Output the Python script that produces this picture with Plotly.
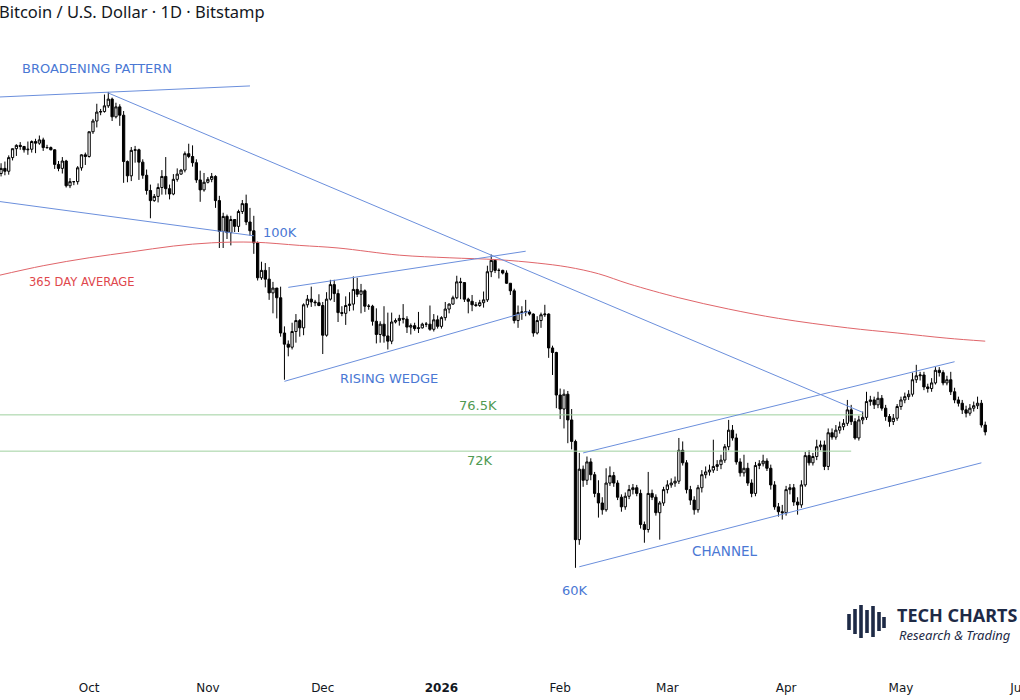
import math
import pandas as pd
import plotly.graph_objects as go

# ---------------- DATA (prices in thousands of USD) ----------------
START_DATE = "2025-09-07"

OPEN = [
    # Sep 7-30
    110.2,111.1,112.0,111.5,113.9,115.5,116.1,115.9,115.3,115.4,116.8,116.5,117.1,115.7,115.7,115.3,112.7,112.0,113.3,109.0,109.7,109.7,112.1,114.4,
    # Oct
    114.1,118.6,120.6,122.3,122.4,123.5,124.8,121.4,123.3,121.7,113.2,110.7,115.2,115.3,113.1,110.8,108.2,106.5,107.2,108.7,110.6,108.5,107.6,110.1,111.0,111.7,114.6,114.1,113.0,110.0,108.3,
    # Nov
    109.6,110.1,110.6,106.5,101.5,103.9,101.3,103.4,102.3,104.7,106.0,103.0,101.6,99.7,94.4,95.5,94.2,92.2,92.9,91.5,86.6,85.1,84.7,86.8,88.3,87.3,90.5,91.3,90.9,90.8,
    # Dec
    90.4,86.3,91.3,93.4,92.1,89.4,89.3,90.4,90.6,92.7,92.0,92.5,90.3,90.3,88.2,86.4,87.8,86.2,85.5,88.1,88.3,88.6,88.5,87.4,87.6,87.2,87.3,87.8,87.8,87.1,88.4,
    # Jan
    87.5,88.7,89.9,90.6,91.5,93.8,93.7,91.3,91.0,90.5,90.4,90.8,91.2,95.3,97.0,95.5,95.5,95.1,93.6,92.5,88.3,89.4,89.5,89.5,89.2,86.6,88.3,89.1,89.2,84.6,84.0,
    # Feb
    78.6,76.9,78.7,75.6,73.1,62.7,70.0,68.8,70.8,69.4,67.4,66.4,65.7,68.5,69.3,68.5,67.0,66.0,67.1,67.8,68.0,67.4,64.2,63.7,67.4,67.0,65.4,66.4,
    # Mar
    67.8,68.3,68.5,68.7,72.1,70.7,67.8,66.7,65.7,68.0,69.4,69.7,69.9,70.3,70.5,71.0,72.5,74.4,73.5,70.8,69.6,70.1,68.5,67.4,70.4,70.6,70.9,70.1,68.3,66.0,65.5,
    # Apr
    65.4,67.8,68.0,66.5,66.2,68.3,71.5,70.7,71.4,72.5,72.7,70.3,74.1,73.6,74.4,74.8,75.2,76.8,75.4,73.5,75.6,75.9,77.8,78.0,77.4,78.2,77.0,76.0,75.4,75.8,
    # May 1-23
    77.2,78.0,78.4,78.7,80.5,81.0,81.1,79.6,79.4,80.1,81.7,81.4,80.1,80.5,79.0,78.0,77.6,76.8,76.4,77.0,77.3,77.6,75.0,
]

HIGH = [
    111.6,112.9,113.2,114.3,115.5,116.3,116.7,116.0,116.8,117.0,117.3,117.9,117.5,116.2,115.9,115.4,113.3,114.0,113.5,110.3,109.8,112.4,114.5,114.8,
    118.6,121.0,123.9,122.9,125.7,126.2,125.1,124.1,123.8,122.5,113.4,115.8,116.0,115.5,113.6,111.8,109.2,107.6,109.4,111.7,114.0,109.2,111.0,112.0,111.9,115.0,116.4,116.1,113.6,111.6,111.2,
    110.5,111.2,110.8,107.3,104.5,104.2,104.0,103.4,105.0,106.6,107.5,105.3,104.0,99.9,96.8,96.6,96.0,93.8,92.9,93.1,87.5,85.6,88.0,89.2,88.5,90.7,91.9,93.1,91.2,92.0,
    90.9,92.3,94.1,94.1,92.7,90.3,91.7,92.3,94.6,94.4,93.5,92.7,90.6,90.5,90.0,88.2,90.3,89.4,89.4,88.6,89.1,90.6,88.9,87.9,88.0,89.5,88.0,88.1,90.4,89.2,89.0,
    88.9,90.9,90.7,91.8,94.7,94.4,93.7,91.5,91.9,90.9,91.2,92.4,96.2,97.9,97.2,95.8,95.6,95.5,93.6,92.8,90.4,90.3,91.2,89.8,89.3,88.9,89.4,90.5,89.3,84.9,84.1,
    79.4,79.3,79.1,76.9,73.3,71.8,70.4,71.4,71.2,69.7,68.8,67.0,70.1,70.3,69.7,68.8,67.3,67.5,68.3,68.4,68.3,67.8,64.5,69.7,67.8,67.3,66.6,68.1,
    68.8,69.0,69.2,73.5,73.1,71.0,68.2,67.1,68.3,69.9,70.3,70.5,73.3,71.0,71.6,72.8,75.6,75.0,74.0,71.2,71.6,70.7,68.9,70.8,71.0,71.6,71.2,70.5,68.7,66.4,66.2,
    68.2,68.4,68.4,67.0,68.8,71.9,72.1,71.8,73.3,73.2,73.2,74.6,74.6,75.0,75.4,75.7,78.0,77.4,75.8,76.1,76.6,79.0,78.5,78.4,79.0,78.6,77.4,76.3,76.3,77.5,
    78.4,78.9,79.2,81.4,82.4,81.5,81.5,80.0,80.7,82.1,82.1,81.7,81.0,81.5,79.5,78.4,78.0,77.3,77.5,77.8,78.4,78.0,75.4,
]

LOW = [
    110.0,110.6,110.8,110.9,113.4,114.2,115.3,114.8,114.4,114.8,114.7,116.2,115.1,115.5,115.2,111.9,111.5,111.1,108.7,108.6,109.1,109.2,111.6,112.6,
    113.9,118.2,119.4,121.7,122.2,123.1,120.6,121.1,119.7,109.5,109.6,109.8,113.0,110.0,110.2,107.5,103.6,106.3,106.2,107.5,107.5,106.7,107.4,109.7,110.9,111.3,113.8,112.3,109.5,106.3,108.0,
    109.4,109.6,105.3,98.9,98.9,100.3,99.3,101.4,101.4,104.3,102.5,100.8,98.0,94.0,94.1,93.0,91.2,89.3,88.6,86.1,80.5,83.5,84.4,85.3,86.1,86.3,90.1,90.2,90.3,90.3,
    83.8,86.1,91.1,90.9,88.1,88.9,87.7,89.6,89.7,91.6,89.3,89.5,89.8,87.6,85.2,85.3,85.3,84.4,85.1,87.9,87.6,87.9,86.6,86.4,86.9,86.6,87.2,87.4,86.9,86.8,87.2,
    87.2,88.3,89.3,90.5,91.3,91.3,90.9,89.3,89.6,90.2,90.2,90.1,90.9,94.5,95.1,94.3,94.9,93.5,91.9,87.9,87.3,88.4,88.9,89.0,86.1,86.4,87.3,88.8,83.3,81.1,77.0,
    75.7,74.6,72.9,72.2,60.0,62.2,68.1,68.3,68.8,67.0,64.9,65.2,65.5,68.2,68.1,66.7,65.5,65.7,66.8,67.3,67.1,63.8,62.4,63.4,66.7,65.1,62.7,66.1,
    67.4,68.0,68.1,68.4,70.4,67.4,66.2,65.2,65.4,67.5,69.0,69.3,69.6,69.8,70.0,70.7,72.1,73.2,70.5,69.2,69.2,68.2,67.0,67.1,70.0,70.3,69.8,67.8,65.7,65.0,64.7,
    65.1,67.3,66.1,65.2,65.9,68.1,70.4,70.4,71.0,72.1,69.9,69.9,73.3,73.3,74.0,74.4,74.9,75.0,73.3,73.2,75.1,75.6,77.3,76.9,77.0,76.7,75.5,74.8,75.0,75.5,
    76.8,77.6,78.0,78.4,80.1,80.4,79.2,78.9,79.0,79.9,80.9,79.8,79.8,78.6,77.6,77.2,76.3,75.9,76.1,76.6,76.9,74.7,73.8,
]

CLOSE = [
    111.1,112.0,111.5,113.9,115.5,116.1,115.9,115.3,115.4,116.8,116.5,117.1,115.7,115.7,115.3,112.7,112.0,113.3,109.0,109.7,109.7,112.1,114.4,114.1,
    118.6,120.6,122.3,122.4,123.5,124.8,121.4,123.3,121.7,113.2,110.7,115.2,115.3,113.1,110.8,108.2,106.5,107.2,108.7,110.6,108.5,107.6,110.1,111.0,111.7,114.6,114.1,113.0,110.0,108.3,109.6,
    110.1,110.6,106.5,101.5,103.9,101.3,103.4,102.3,104.7,106.0,103.0,101.6,99.7,94.4,95.5,94.2,92.2,92.9,91.5,86.6,85.1,84.7,86.8,88.3,87.3,90.5,91.3,90.9,90.8,90.4,
    86.3,91.3,93.4,92.1,89.4,89.3,90.4,90.6,92.7,92.0,92.5,90.3,90.3,88.2,86.4,87.8,86.2,85.5,88.1,88.3,88.6,88.5,87.4,87.6,87.2,87.3,87.8,87.8,87.1,88.4,87.5,
    88.7,89.9,90.6,91.5,93.8,93.7,91.3,91.0,90.5,90.4,90.8,91.2,95.3,97.0,95.5,95.5,95.1,93.6,92.5,88.3,89.4,89.5,89.5,89.2,86.6,88.3,89.1,89.2,84.6,84.0,78.6,
    76.9,78.7,75.6,73.1,62.7,70.0,68.8,70.8,69.4,67.4,66.4,65.7,68.5,69.3,68.5,67.0,66.0,67.1,67.8,68.0,67.4,64.2,63.7,67.4,67.0,65.4,66.4,67.8,
    68.3,68.5,68.7,72.1,70.7,67.8,66.7,65.7,68.0,69.4,69.7,69.9,70.3,70.5,71.0,72.5,74.4,73.5,70.8,69.6,70.1,68.5,67.4,70.4,70.6,70.9,70.1,68.3,66.0,65.5,65.4,
    67.8,68.0,66.5,66.2,68.3,71.5,70.7,71.4,72.5,72.7,70.3,74.1,73.6,74.4,74.8,75.2,76.8,75.4,73.5,75.6,75.9,77.8,78.0,77.4,78.2,77.0,76.0,75.4,75.8,77.2,
    78.0,78.4,78.7,80.5,81.0,81.1,79.6,79.4,80.1,81.7,81.4,80.1,80.5,79.0,78.0,77.6,76.8,76.4,77.0,77.3,77.6,75.0,74.2,
]

# 365-day average (red), read at sample dates
MA_DATES = ["2025-09-07", "2025-09-19", "2025-10-01", "2025-10-12", "2025-10-23", "2025-11-02",
            "2025-11-13", "2025-11-25", "2025-12-05", "2025-12-21", "2026-01-03", "2026-01-16",
            "2026-01-26", "2026-02-03", "2026-02-11", "2026-02-19", "2026-03-04", "2026-03-17",
            "2026-03-30", "2026-04-17", "2026-04-30", "2026-05-13", "2026-05-23"]
MA_VALUES = [94.7, 96.2, 97.4, 98.3, 99.2, 99.7, 99.8, 99.3, 98.9, 97.8, 97.4, 97.1,
             96.6, 96.0, 95.0, 93.5, 91.5, 89.9, 88.6, 87.3, 86.6, 85.9, 85.5]

# Pattern trendlines (two points each: dates, prices)
TRENDLINES = {
    "broadening_top":    (["2025-09-07", "2025-11-12"], [125.2, 127.4]),
    "broadening_bottom": (["2025-09-07", "2025-11-13"], [106.4, 100.8]),
    "downtrend":         (["2025-10-06", "2026-04-21"], [126.0, 76.5]),
    "wedge_top":         (["2025-11-22", "2026-01-23"], [93.0, 98.4]),
    "wedge_bottom":      (["2025-11-21", "2026-01-24"], [80.3, 89.6]),
    "channel_top":       (["2026-02-07", "2026-05-15"], [71.8, 82.8]),
    "channel_bottom":    (["2026-02-06", "2026-05-22"], [60.1, 70.7]),
}

# Horizontal support levels (green)
LEVELS = {
    "76.5K": (["2025-09-07", "2026-04-21"], 76.2),
    "72K":   (["2025-09-07", "2026-04-18"], 72.0),
}

MONTH_TICKS = ["2025-10-01", "2025-11-01", "2025-12-01", "2026-01-01", "2026-02-01",
               "2026-03-01", "2026-04-01", "2026-05-01", "2026-06-01"]
MONTH_LABELS = ["Oct", "Nov", "Dec", "<b>2026</b>", "Feb", "Mar", "Apr", "May", "Jun"]

# ---------------- FIGURE ----------------
W, H = 1020, 700
MB = 35
PH = H - MB  # plot height in px

dates = pd.date_range(START_DATE, periods=len(CLOSE), freq="D")

BLUE = "#6b8fdc"
BLUE_TXT = "#4a78d4"
GREEN = "#9fd09f"
GREEN_TXT = "#4f9a52"
RED = "#e0656a"
RED_TXT = "#e0474c"
NAVY = "#1e2a46"

fig = go.Figure()

for name, (xs, ys) in LEVELS.items():
    fig.add_trace(go.Scatter(x=xs, y=[ys, ys], mode="lines",
                             line=dict(color=GREEN, width=1), hoverinfo="skip", showlegend=False))

fig.add_trace(go.Scatter(x=MA_DATES, y=MA_VALUES, mode="lines",
                         line=dict(color=RED, width=1, shape="spline", smoothing=1.0),
                         hoverinfo="skip", showlegend=False))

for name, (xs, ys) in TRENDLINES.items():
    fig.add_trace(go.Scatter(x=xs, y=ys, mode="lines", line=dict(color=BLUE, width=1),
                             hoverinfo="skip", showlegend=False))

fig.add_trace(go.Candlestick(
    x=dates, open=OPEN, high=HIGH, low=LOW, close=CLOSE,
    increasing=dict(line=dict(color="#000000", width=1), fillcolor="#ffffff"),
    decreasing=dict(line=dict(color="#000000", width=1), fillcolor="#000000"),
    whiskerwidth=0, showlegend=False, hoverinfo="skip"))

def px(xp, yp):
    return xp / W, 1 - yp / PH

def label(text, xp, yp, color, size=13, family="DejaVu Sans", xanchor="center", **kw):
    x, y = px(xp, yp)
    fig.add_annotation(x=x, y=y, xref="paper", yref="paper", text=text, showarrow=False,
                       xanchor=xanchor, yanchor="middle", borderpad=0,
                       font=dict(color=color, size=size, family=family), **kw)

label("Bitcoin / U.S. Dollar · 1D · Bitstamp", -2, 12, "#131722", size=16.5, family="Noto Sans", xanchor="left")
label("BROADENING PATTERN", 97, 68, BLUE_TXT)
label("100K", 280, 232, BLUE_TXT)
label("365 DAY AVERAGE", 82, 282, RED_TXT, size=11.5)
label("RISING WEDGE", 389, 378, BLUE_TXT)
label("76.5K", 478, 405, GREEN_TXT)
label("72K", 480, 461, GREEN_TXT)
label("CHANNEL", 725, 551, BLUE_TXT, size=13.5)
label("60K", 575, 590, BLUE_TXT)

# logo
label("<b>TECH CHARTS</b>", 896, 615, NAVY, size=18, family="Noto Sans", xanchor="left")
label("<i>Research &amp; Trading</i>", 898, 635, NAVY, size=13, family="Noto Sans", xanchor="left")
bars = [(849, 614, 630), (855, 609, 634), (861, 605, 638), (867, 610, 633), (873, 606, 637), (879, 612, 631), (884, 617, 628)]
for bx, y0, y1 in bars:
    x0p, y0p = px(bx - 1.8, y0)
    x1p, y1p = px(bx + 1.8, y1)
    fig.add_shape(type="rect", xref="paper", yref="paper", x0=x0p, x1=x1p, y0=y1p, y1=y0p,
                  fillcolor=NAVY, line=dict(width=0))

ymin = 126 * math.exp(-(PH - 93) / 640)
ymax = 126 * math.exp(93 / 640)

fig.update_layout(
    width=W, height=H,
    margin=dict(l=0, r=0, t=0, b=MB, autoexpand=False),
    paper_bgcolor="white", plot_bgcolor="white",
    boxgap=0.15,
    xaxis=dict(range=["2025-09-07 17:17", "2026-06-01 02:00"], rangeslider=dict(visible=False),
               showgrid=False, zeroline=False, showline=False, ticks="",
               tickvals=MONTH_TICKS, ticktext=MONTH_LABELS,
               tickfont=dict(family="DejaVu Sans", size=12, color="#131722"),
               ticklabelstandoff=14, ticklabeloverflow="allow", automargin=False),
    yaxis=dict(type="log", range=[math.log10(ymin), math.log10(ymax)], visible=False,
               showgrid=False, zeroline=False, automargin=False),
    showlegend=False,
)

fig.write_html("out.html", config={"displayModeBar": False})
